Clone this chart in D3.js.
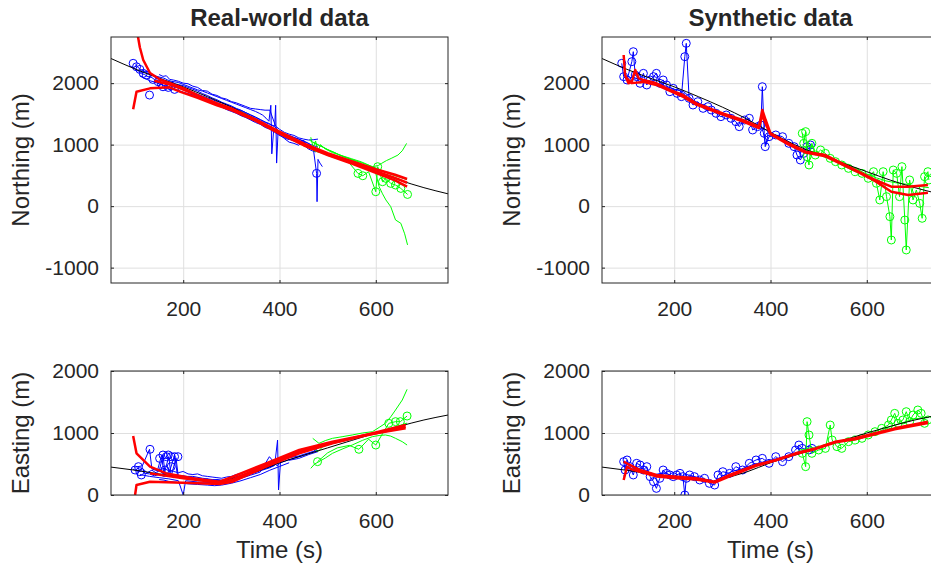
<!DOCTYPE html>
<html>
<head>
<meta charset="utf-8">
<script src="https://cdn.jsdelivr.net/npm/d3@7"></script>
<style>
    body { margin: 0; background: #fff; }
    svg text { font-family: "Liberation Sans", Arial, Helvetica, sans-serif; fill: #262626; }
</style>
</head>
<body>
<svg id="chart"></svg>
<script>
// ---- axes ----
const timeDomain = [50, 750];
const timeTicks = [200, 400, 600];
const northDomain = [-1250, 2750];
const northTicks = [-1000, 0, 1000, 2000];
const eastDomain = [0, 2000];
const eastTicks = [0, 1000, 2000];
const titles = ['Real-world data', 'Synthetic data'];

// ---- ground truth (black) ----
const northTruth = [[50,2400],[100,2230],[150,2080],[200,1940],[250,1780],[300,1610],[350,1420],[400,1200],[450,1000],[500,840],[550,700],[600,560],[650,420],[700,300],[750,200]];
const eastTruth = [[50,450],[100,400],[150,340],[200,290],[250,240],[280,220],[300,260],[350,370],[400,520],[450,640],[500,760],[550,880],[600,1000],[650,1110],[700,1210],[750,1290]];

// ---- real-world, northing ----
const realNorthBlue = [
    [[95,2260],[100,2240],[105,2200],[110,2190],[115,2150],[120,2140],[125,2110],[130,2100],[135,2090],[140,2060],[145,2040],[150,2050],[155,2010],[160,2000],[165,1990],[170,1985],[175,1970],[180,1940],[185,1930],[190,1925],[200,1900],[207,1880],[215,1860],[222,1845],[230,1820],[240,1790],[250,1760],[260,1735],[270,1700],[280,1680],[290,1650],[300,1615],[310,1580],[320,1555],[330,1520],[340,1485],[350,1450],[360,1410],[370,1370],[378,1345],[385,1310],[390,1290],[395,1260],[400,1150],[405,1160],[410,1120],[418,1100],[425,1070],[432,1060],[440,1040],[448,1010],[455,990],[462,975],[470,950]],
    [[100,2300],[110,2230],[120,2180],[130,2150],[140,2120],[150,2100],[160,2080],[168,2050],[175,2030],[183,2020],[190,2010],[200,1980],[210,1950],[220,1920],[230,1890],[240,1870],[250,1840],[260,1810],[270,1780],[280,1750],[290,1720],[300,1690],[310,1660],[320,1630],[330,1600],[340,1570],[350,1540],[358,1510],[365,1480],[372,1430],[378,1380],[382,1640],[384,850],[388,1250],[394,1220],[400,1180],[410,1170],[420,1140],[430,1110],[440,1090],[450,1060],[458,1030],[465,1000],[472,980],[480,960]],
    [[110,2120],[120,2080],[130,2040],[140,2020],[150,1990],[160,1960],[170,1930],[180,1910],[190,1880],[200,1850],[210,1820],[220,1790],[230,1760],[240,1740],[250,1710],[260,1680],[270,1650],[280,1610],[290,1580],[300,1550],[310,1520],[320,1480],[330,1450],[340,1410],[350,1380],[360,1340],[370,1310],[378,1280],[385,1250],[392,1210],[400,1170],[410,1100],[420,1040],[430,1020],[440,990],[450,1075],[455,960],[460,930],[468,900],[475,880]],
    [[140,2100],[150,2070],[160,2040],[170,2010],[180,1990],[190,1975],[200,1960],[210,1930],[220,1900],[230,1870],[240,1830],[250,1800],[260,1760],[270,1730],[280,1690],[290,1660],[300,1630],[310,1590],[320,1560],[330,1520],[340,1480],[350,1440],[360,1400],[370,1360],[380,1330],[390,1300],[392,1640],[394,700],[397,1200],[405,1180],[412,1160],[420,1150],[430,1120],[440,1090],[450,1050],[460,1020],[465,990],[470,950],[477,533],[478,72],[480,760],[484,700],[489,642]],
    [[150,2140],[158,2110],[165,2120],[172,2060],[180,2050],[190,2030],[200,2000],[210,1990],[220,1950],[230,1930],[240,1880],[250,1870],[260,1820],[270,1800],[280,1760],[290,1740],[300,1700],[310,1680],[320,1650],[330,1620],[340,1590],[350,1580],[360,1570],[370,1560],[380,1560],[385,1450],[392,1300],[400,1250],[410,1200],[420,1170],[430,1150],[440,1110],[450,1090],[460,1075],[470,1080],[480,1090]],
    [[160,1950],[170,1940],[180,1900],[190,1880],[200,1850],[210,1830],[220,1810],[230,1770],[240,1740],[250,1700],[260,1680],[270,1640],[280,1610],[290,1570],[300,1540],[310,1510],[320,1470],[330,1440],[340,1400],[350,1360],[360,1330],[370,1280],[380,1250],[390,1200],[400,1150],[410,1110],[420,1080]]
];
const realNorthBlueMarks = [[96,2322],[103,2266],[110,2223],[117,2158],[123,2131],[130,1806],[137,2060],[148,2023],[155,1985],[158,1941],[165,1968],[169,1930],[175,1952],[182,1898],[477,533]];
const realNorthGreen = [
    [[462,1075],[475,1010],[490,960],[505,900],[520,850],[535,800],[550,760],[565,720],[580,680],[593,641],[605,660],[612,695],[622,740],[632,776],[646,830],[655,900],[664,1020]],
    [[470,1040],[485,980],[500,920],[515,870],[530,810],[545,770],[560,720],[575,670],[590,610],[600,532],[607,316],[614,200],[621,100],[631,-8],[641,-225],[652,-279],[660,-450],[666,-631]],
    [[470,900],[490,860],[510,820],[530,770],[545,700],[563,532],[573,494],[585,560],[600,234],[604,641],[614,397],[621,451],[631,370],[641,343],[652,288],[666,190]],
    [[465,1120],[470,950],[475,1060],[480,880],[485,1000],[495,930],[510,870],[530,820],[550,770],[570,720],[590,650],[610,590],[630,520],[650,470],[665,430]]
];
const realNorthGreenMarks = [[563,532],[573,494],[600,234],[604,641],[614,397],[621,451],[631,370],[641,343],[652,288],[666,190]];
const realNorthRed = [
    [[100,3000],[105,2800],[110,2580],[117,2376],[131,2165],[151,2062],[174,1997],[200,1920],[234,1790],[270,1670],[300,1580],[350,1410],[400,1210],[450,1020],[500,860],[550,730],[600,600],[640,510],[665,441]],
    [[96,1574],[103,1860],[131,1915],[172,1932],[193,1861],[230,1760],[270,1640],[300,1560],[350,1390],[400,1180],[450,990],[500,830],[550,690],[600,540],[640,420],[665,316]],
    [[140,2040],[180,1960],[220,1830],[260,1700],[300,1590],[350,1400],[400,1190],[450,1000],[500,840],[550,710],[600,570],[640,460],[665,380]]
];

// ---- real-world, easting ----
const realEastBlue = [
    [[95,420],[105,380],[115,430],[125,360],[135,400],[145,350],[155,640],[160,330],[170,620],[175,300],[185,600],[190,290],[200,310],[220,280],[240,250],[260,230],[280,220],[300,270],[320,320],[340,360],[360,410],[380,470],[395,510],[400,560],[420,600],[440,630],[460,680],[480,720]],
    [[100,450],[115,470],[130,737],[135,420],[150,380],[158,650],[162,360],[170,340],[182,640],[188,320],[200,300],[220,300],[240,270],[260,250],[280,240],[300,250],[320,300],[340,340],[360,390],[380,440],[390,480],[396,887],[398,81],[402,520],[420,570],[450,640],[470,700],[489,806]],
    [[110,330],[130,300],[150,280],[170,260],[190,230],[200,0],[205,230],[230,210],[260,200],[280,190],[300,220],[320,270],[340,320],[360,370],[379,618],[395,470],[413,618],[420,560],[440,590],[460,650],[480,700]],
    [[120,350],[130,340],[140,310],[150,330],[160,300],[170,320],[180,280],[190,300],[200,270],[210,290],[220,250],[230,270],[240,240],[250,260],[260,230],[270,250],[280,230],[290,240],[300,250],[310,290],[320,300],[330,330],[340,350],[350,380],[360,400],[370,430],[380,450],[390,480]],
    [[140,420],[150,400],[160,430],[170,390],[180,380],[190,360],[200,380],[210,340],[220,330],[230,340],[240,310],[250,300],[260,290],[270,280],[280,270],[290,290],[300,300],[310,330],[320,350],[330,380],[340,400],[350,430],[360,450],[370,480],[380,510],[390,540],[400,600],[410,620],[420,630],[430,650],[440,670],[450,700],[460,720],[470,750],[480,760]],
    [[150,250],[160,240],[170,220],[180,210],[190,200],[210,180],[230,170],[250,160],[265,150],[280,160],[300,190],[320,230],[340,280],[360,330],[380,400],[400,460],[420,520]]
];
const realEastBlueMarks = [[100,403],[107,457],[110,376],[113,323],[131,737],[151,591],[158,645],[162,403],[165,618],[169,645],[175,618],[175,457],[182,618],[189,618]];
const realEastGreen = [
    [[469,914],[482,833],[496,880],[510,914],[530,940],[551,968],[572,1000],[593,1021],[607,1090],[620,1156],[631,1260],[641,1371],[655,1532],[665,1704]],
    [[465,430],[473,500],[482,538],[496,600],[510,672],[530,740],[551,806],[572,880],[593,941],[607,960],[620,968],[631,950],[641,914],[655,860],[665,806]],
    [[479,538],[500,680],[520,760],[545,800],[565,737],[585,900],[600,806],[615,1000],[627,1156],[641,1183],[651,1183],[665,1274]],
    [[470,760],[480,700],[490,780],[505,820],[525,860],[545,900],[565,940],[585,980],[605,1010],[625,1060],[645,1110],[665,1160]]
];
const realEastGreenMarks = [[479,538],[565,737],[600,806],[627,1156],[641,1183],[651,1183],[665,1274]];
const realEastRed = [
    [[96,952],[103,672],[131,457],[165,349],[220,269],[275,215],[303,296],[372,511],[441,726],[510,860],[579,968],[662,1129]],
    [[100,0],[103,161],[131,215],[200,199],[275,177],[303,215],[372,457],[441,672],[510,833],[579,968],[662,1075]],
    [[131,349],[200,269],[275,199],[303,250],[372,484],[441,700],[510,844],[579,960],[662,1102]]
];

// ---- synthetic, northing ----
const synNorthBlue = [
    [[91,2322],[95,2105],[102,2051],[112,2349],[115,2511],[119,2132],[122,2105],[129,1997],[136,2159],[143,1970],[150,2051],[157,2105],[163,2159],[170,1997],[177,2051],[184,1970],[191,1861],[198,1915],[206,1834],[215,1780],[222,2430],[225,2647],[231,1753],[239,1644],[249,1698],[260,1590],[270,1617],[277,1563],[287,1509],[297,1455],[308,1482],[318,1428],[328,1373],[335,1292],[346,1400],[356,1428],[363,1238],[373,1292],[380,1319],[383,1942],[387,1184],[389,967],[397,1129],[411,1157],[425,1129],[438,1021],[449,967],[455,831],[462,750],[469,858],[476,967],[483,994]],
    [[95,2150],[105,2080],[115,2100],[125,2060],[140,2040],[160,2010],[180,1960],[200,1900],[220,1860],[240,1720],[260,1640],[280,1560],[300,1500],[320,1460],[340,1400],[360,1350],[380,1300],[385,1200],[390,1000],[395,1150],[410,1130],[430,1080],[450,990],[460,870],[470,900],[483,960]]
];
const synNorthGreen = [
    [[466,1184],[469,1021],[473,1211],[476,804],[480,669],[483,913],[486,1021],[493,831],[504,913],[514,858],[524,777],[535,723],[548,669],[562,614],[576,560],[590,533],[603,452],[614,560],[620,371],[627,100],[634,560],[641,154],[648,-171],[651,-551],[655,587],[662,533],[668,154],[673,642],[679,-226],[682,-713],[689,425],[696,100],[703,262],[710,45],[715,-198],[720,479],[727,560],[729,425]],
    [[466,1000],[480,900],[500,860],[520,800],[540,740],[560,680],[580,600],[600,520],[620,460],[640,410],[660,380],[680,360],[700,330],[729,300]]
];
const synNorthRed = [
    [[95,2457],[98,2132],[105,1997],[112,2024],[119,2213],[126,2078],[136,2051],[163,1997],[191,1889],[218,1807],[246,1671],[301,1509],[342,1400],[376,1292],[383,1563],[390,1400],[400,1184],[438,1021],[473,886],[514,831],[583,560],[617,425],[651,316],[686,316],[727,343]],
    [[100,2090],[112,2000],[136,2020],[163,1970],[218,1780],[246,1650],[301,1490],[342,1380],[376,1270],[383,1480],[392,1300],[400,1170],[438,1000],[473,870],[514,810],[583,550],[617,410],[651,235],[686,181],[727,219]]
];

// ---- synthetic, easting ----
const synEastBlue = [
    [[95,538],[98,403],[102,565],[108,457],[115,323],[122,511],[129,484],[136,403],[143,457],[150,296],[157,215],[163,107],[170,269],[177,403],[184,349],[191,323],[198,296],[205,323],[212,349],[218,296],[222,0],[225,269],[232,323],[242,296],[253,242],[263,269],[273,188],[284,161],[291,323],[301,376],[315,349],[328,457],[342,403],[356,511],[370,565],[383,591],[397,511],[411,618],[425,538],[438,618],[452,726],[459,806],[466,752],[480,726],[486,752]],
    [[95,300],[105,480],[120,420],[140,380],[160,330],[180,360],[200,290],[220,280],[240,300],[260,260],[280,210],[300,300],[320,380],[340,420],[360,480],[380,520],[400,560],[420,600],[440,650],[460,700],[480,740]]
];
const synEastGreen = [
    [[466,672],[473,457],[476,1183],[480,968],[486,672],[500,726],[514,752],[524,1129],[528,887],[538,780],[548,752],[562,860],[576,887],[590,914],[603,968],[617,1021],[631,1075],[645,1129],[651,1210],[658,1317],[665,1156],[675,1210],[682,1344],[689,1183],[696,1290],[706,1371],[713,1317],[720,1156],[727,1210]],
    [[466,720],[480,760],[500,760],[520,820],[540,850],[560,880],[580,920],[600,960],[620,1000],[640,1080],[660,1130],[680,1180],[700,1230],[729,1250]]
];
const synEastRed = [
    [[95,538],[108,484],[129,403],[163,323],[205,296],[246,269],[284,215],[315,323],[370,484],[411,565],[452,672],[493,752],[535,860],[576,914],[617,995],[658,1075],[727,1183]],
    [[95,242],[102,457],[110,420],[129,376],[163,300],[205,270],[246,250],[284,200],[315,300],[370,470],[411,560],[452,660],[493,740],[535,850],[576,900],[617,980],[658,1060],[727,1160]]
];

// ---- layout ----
const width = 931;
const height = 569;
const panels = [
    { left: 111, top: 37, w: 337, h: 246, domain: northDomain, ticks: northTicks, label: 'Northing (m)', title: titles[0],
      truth: northTruth, blue: realNorthBlue, blueMarks: realNorthBlueMarks, green: realNorthGreen, greenMarks: realNorthGreenMarks, red: realNorthRed },
    { left: 602, top: 37, w: 337, h: 246, domain: northDomain, ticks: northTicks, label: 'Northing (m)', title: titles[1],
      truth: northTruth, blue: synNorthBlue, blueMarks: synNorthBlue[0], green: synNorthGreen, greenMarks: synNorthGreen[0], red: synNorthRed },
    { left: 111, top: 371, w: 337, h: 124, domain: eastDomain, ticks: eastTicks, label: 'Easting (m)', xlabel: 'Time (s)',
      truth: eastTruth, blue: realEastBlue, blueMarks: realEastBlueMarks, green: realEastGreen, greenMarks: realEastGreenMarks, red: realEastRed },
    { left: 602, top: 371, w: 337, h: 124, domain: eastDomain, ticks: eastTicks, label: 'Easting (m)', xlabel: 'Time (s)',
      truth: eastTruth, blue: synEastBlue, blueMarks: synEastBlue[0], green: synEastGreen, greenMarks: synEastGreen[0], red: synEastRed }
];

const svg = d3.select('#chart')
    .attr('width', width)
    .attr('height', height);

const axisColor = '#262626';
const gridColor = '#dfdfdf';
const plain = d => `${d}`;

panels.forEach((p, i) => {
    const xScale = d3.scaleLinear().domain(timeDomain).range([0, p.w]);
    const yScale = d3.scaleLinear().domain(p.domain).range([p.h, 0]);
    const line = d3.line().x(d => xScale(d[0])).y(d => yScale(d[1]));
    const smooth = d3.line().x(d => xScale(d[0])).y(d => yScale(d[1])).curve(d3.curveMonotoneX);

    const g = svg.append('g')
        .attr('transform', `translate(${p.left},${p.top})`);

    g.append('clipPath')
        .attr('id', `clip${i}`)
        .append('rect')
            .attr('width', p.w)
            .attr('height', p.h);

    // grid
    g.append('g')
        .attr('transform', `translate(0,${p.h})`)
        .call(d3.axisBottom(xScale).tickValues(timeTicks).tickSize(-p.h).tickFormat(''))
        .call(a => a.select('.domain').remove())
        .selectAll('line').attr('stroke', gridColor);
    g.append('g')
        .call(d3.axisLeft(yScale).tickValues(p.ticks).tickSize(-p.w).tickFormat(''))
        .call(a => a.select('.domain').remove())
        .selectAll('line').attr('stroke', gridColor);

    const plot = g.append('g').attr('clip-path', `url(#clip${i})`);

    plot.selectAll('.blue')
        .data(p.blue)
        .join('path')
            .classed('blue', true)
            .attr('d', line)
            .attr('fill', 'none')
            .attr('stroke', '#0000ff')
            .attr('stroke-width', 1);

    plot.selectAll('.blueMark')
        .data(p.blueMarks)
        .join('circle')
            .classed('blueMark', true)
            .attr('cx', d => xScale(d[0]))
            .attr('cy', d => yScale(d[1]))
            .attr('r', 4)
            .attr('fill', 'none')
            .attr('stroke', '#0000ff')
            .attr('stroke-width', 1);

    plot.selectAll('.green')
        .data(p.green)
        .join('path')
            .classed('green', true)
            .attr('d', line)
            .attr('fill', 'none')
            .attr('stroke', '#00ff00')
            .attr('stroke-width', 1);

    plot.selectAll('.greenMark')
        .data(p.greenMarks)
        .join('circle')
            .classed('greenMark', true)
            .attr('cx', d => xScale(d[0]))
            .attr('cy', d => yScale(d[1]))
            .attr('r', 4)
            .attr('fill', 'none')
            .attr('stroke', '#00ff00')
            .attr('stroke-width', 1);

    plot.append('path')
        .datum(p.truth)
        .attr('d', smooth)
        .attr('fill', 'none')
        .attr('stroke', '#000')
        .attr('stroke-width', 1);

    plot.selectAll('.red')
        .data(p.red)
        .join('path')
            .classed('red', true)
            .attr('d', line)
            .attr('fill', 'none')
            .attr('stroke', '#ff0000')
            .attr('stroke-width', 2.5)
            .attr('stroke-linejoin', 'round');

    // box + ticks
    g.append('rect')
        .attr('width', p.w)
        .attr('height', p.h)
        .attr('fill', 'none')
        .attr('stroke', axisColor)
        .attr('stroke-width', 1);

    const styleAxis = a => {
        a.select('.domain').remove();
        a.selectAll('line').attr('stroke', axisColor);
        a.selectAll('text').attr('font-size', '21px').attr('fill', axisColor).attr('font-family', null);
    };
    g.append('g')
        .attr('transform', `translate(0,${p.h})`)
        .call(d3.axisBottom(xScale).tickValues(timeTicks).tickFormat(plain).tickSizeInner(-3).tickSizeOuter(0).tickPadding(18))
        .call(styleAxis);
    g.append('g')
        .call(d3.axisTop(xScale).tickValues(timeTicks).tickSizeInner(-3).tickSizeOuter(0).tickFormat(''))
        .call(styleAxis);
    g.append('g')
        .call(d3.axisLeft(yScale).tickValues(p.ticks).tickFormat(plain).tickSizeInner(-3).tickSizeOuter(0).tickPadding(12))
        .call(styleAxis);
    g.append('g')
        .attr('transform', `translate(${p.w},0)`)
        .call(d3.axisRight(yScale).tickValues(p.ticks).tickSizeInner(-3).tickSizeOuter(0).tickFormat(''))
        .call(styleAxis);

    // labels
    g.append('text')
        .attr('transform', `translate(${-82},${p.h / 2}) rotate(-90)`)
        .attr('text-anchor', 'middle')
        .attr('font-size', '24px')
        .text(p.label);

    if (p.title) {
        g.append('text')
            .attr('x', p.w / 2)
            .attr('y', -11)
            .attr('text-anchor', 'middle')
            .attr('font-size', '24px')
            .attr('font-weight', 'bold')
            .attr('fill', '#000')
            .text(p.title);
    }
    if (p.xlabel) {
        g.append('text')
            .attr('x', p.w / 2)
            .attr('y', p.h + 63)
            .attr('text-anchor', 'middle')
            .attr('font-size', '24px')
            .text(p.xlabel);
    }
});
</script>
</body>
</html>
